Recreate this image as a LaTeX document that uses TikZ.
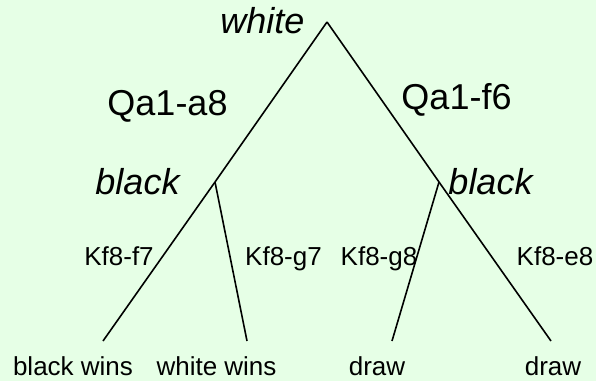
\documentclass[tikz,border=0pt]{standalone}
\usepackage{fontspec}
\setmainfont{Liberation Sans}
\definecolor{bgc}{RGB}{230,255,230}
\begin{document}
\begin{tikzpicture}[x=1pt,y=-1pt,
  edge/.style={line width=1.6pt,black},
  big/.style={inner sep=0pt,anchor=base,font=\fontsize{36}{40}\selectfont},
  bigit/.style={big,font=\fontsize{36}{40}\selectfont\itshape},
  small/.style={inner sep=0pt,anchor=base,font=\fontsize{26}{30}\selectfont}]
\fill[bgc] (0,0) rectangle (596,381);
\useasboundingbox (0,0) rectangle (596,381);
\coordinate (root) at (327,22);
\coordinate (lb) at (215,182);
\coordinate (rb) at (439,182);
\coordinate (l1) at (103,341);
\coordinate (l2) at (247,341);
\coordinate (l3) at (392,341);
\coordinate (l4) at (551,341);
\draw[edge] (root) -- (lb);
\draw[edge] (root) -- (rb) -- (l4);
\draw[edge] (lb) -- (l1);
\draw[edge] (lb) -- (l2);
\draw[edge] (rb) -- (l3);
\node[bigit] (tw) at (262.5,33) {white};
\node[big] (qa8) at (167.5,115) {Qa1-a8};
\node[big] (qf6) at (456.5,109) {Qa1-f6};
\node[bigit] (bl) at (137.5,194) {black};
\node[bigit] (br) at (490.5,194) {black};
\node[small] (m1) at (119,265) {Kf8-f7};
\node[small] (m2) at (283.5,265) {Kf8-g7};
\node[small] (m3) at (379,265) {Kf8-g8};
\node[small] (m4) at (555,265) {Kf8-e8};
\node[small] (r1) at (73,375) {black wins};
\node[small] (r2) at (216.5,375) {white wins};
\node[small] (r3) at (377,375) {draw};
\node[small] (r4) at (553,375) {draw};
\end{tikzpicture}
\end{document}
